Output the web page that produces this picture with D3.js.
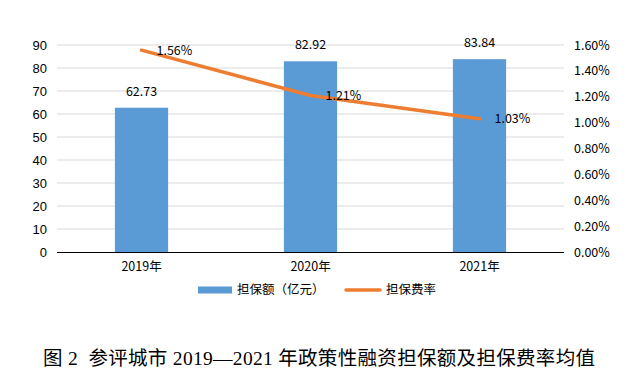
<!DOCTYPE html>
<html>
<head>
<meta charset="utf-8">
<script src="https://cdn.jsdelivr.net/npm/d3@7"></script>
<style>
  body { margin: 0; background: #fff; }
  svg { display: block; }
</style>
</head>
<body>
<div id="chart"></div>
<script>
// chart values
let years = ["2019年", "2020年", "2021年"]
let amounts = [62.73, 82.92, 83.84]      // 担保额（亿元）
let rates = [1.56, 1.21, 1.03]           // 担保费率 (%)
let leftTicks = [0, 10, 20, 30, 40, 50, 60, 70, 80, 90]
let rightTicks = [0, 0.2, 0.4, 0.6, 0.8, 1.0, 1.2, 1.4, 1.6]
let legendNames = ["担保额（亿元）", "担保费率"]
let title = "图 2  参评城市 2019—2021 年政策性融资担保额及担保费率均值"

var svg = d3.select("#chart").append("svg")
  .attr("width", 641)
  .attr("height", 389)

var plot = { left: 57, right: 564, top: 45, bottom: 252 }
var cjk = "'Noto Sans CJK SC', sans-serif"

var x = d3.scaleBand()
  .domain(years)
  .range([plot.left, plot.right])
  .paddingInner(0.685)
  .paddingOuter(0.3425)

var yL = d3.scaleLinear().domain([0, 90]).range([plot.bottom, plot.top])
var yR = d3.scaleLinear().domain([0, 1.6]).range([plot.bottom, plot.top])

// gridlines
svg.append("g")
  .selectAll("line")
  .data(leftTicks.slice(1))
  .join("line")
  .attr("x1", plot.left).attr("x2", plot.right)
  .attr("y1", d => yL(d)).attr("y2", d => yL(d))
  .attr("stroke", "#d9d9d9")
  .attr("stroke-width", 1)

// left axis labels
svg.append("g")
  .attr("transform", "translate(" + plot.left + ",0)")
  .call(d3.axisLeft(yL).tickValues(leftTicks).tickSize(0).tickPadding(10))
  .call(g => g.select(".domain").remove())
  .selectAll("text")
  .style("font-family", "'Liberation Sans', Arial, sans-serif")
  .style("font-size", "13px")
  .attr("fill", "#000")

// right axis labels
svg.append("g")
  .attr("transform", "translate(" + plot.right + ",0)")
  .call(d3.axisRight(yR).tickValues(rightTicks).tickSize(0).tickPadding(10)
    .tickFormat(d => d3.format(".2f")(d) + "%"))
  .call(g => g.select(".domain").remove())
  .selectAll("text")
  .style("font-family", cjk)
  .style("font-size", "12.5px")
  .attr("fill", "#000")

// bars
svg.append("g")
  .selectAll("rect")
  .data(amounts)
  .join("rect")
  .attr("x", (d, i) => x(years[i]))
  .attr("width", x.bandwidth())
  .attr("y", d => yL(d))
  .attr("height", d => plot.bottom - yL(d))
  .attr("fill", "#5b9bd5")

// bottom axis
svg.append("g")
  .attr("transform", "translate(0," + plot.bottom + ")")
  .call(d3.axisBottom(x).tickSize(0).tickPadding(10))
  .call(g => g.select(".domain").attr("d", "M" + plot.left + ",0.5H" + plot.right).attr("stroke", "#000"))
  .selectAll("text")
  .style("font-family", cjk)
  .style("font-size", "12.5px")
  .attr("fill", "#000")

// bar value labels
svg.append("g")
  .selectAll("text")
  .data(amounts)
  .join("text")
  .attr("x", (d, i) => x(years[i]) + x.bandwidth() / 2)
  .attr("y", d => yL(d) - 12)
  .attr("text-anchor", "middle")
  .style("font-family", cjk)
  .style("font-size", "12.5px")
  .text(d => d3.format(".2f")(d))

// rate line
var line = d3.line()
  .x((d, i) => x(years[i]) + x.bandwidth() / 2)
  .y(d => yR(d))

svg.append("path")
  .datum(rates)
  .attr("d", line)
  .attr("fill", "none")
  .attr("stroke", "#ed7d31")
  .attr("stroke-width", 3.5)
  .attr("stroke-linecap", "round")

svg.append("g")
  .selectAll("text")
  .data(rates)
  .join("text")
  .attr("x", (d, i) => x(years[i]) + x.bandwidth() / 2 + 15)
  .attr("y", d => yR(d))
  .attr("dy", "0.35em")
  .style("font-family", cjk)
  .style("font-size", "12.5px")
  .text(d => d3.format(".2f")(d) + "%")

// legend
var legend = svg.append("g").attr("transform", "translate(0,290)")
legend.append("rect")
  .attr("x", 198).attr("y", -3.5)
  .attr("width", 34).attr("height", 7)
  .attr("fill", "#5b9bd5")
legend.append("text")
  .attr("x", 237).attr("y", 0).attr("dy", "0.35em")
  .style("font-family", cjk).style("font-size", "12.5px")
  .text(legendNames[0])
legend.append("line")
  .attr("x1", 346).attr("x2", 380)
  .attr("y1", 0).attr("y2", 0)
  .attr("stroke", "#ed7d31").attr("stroke-width", 3.5)
  .attr("stroke-linecap", "round")
legend.append("text")
  .attr("x", 386).attr("y", 0).attr("dy", "0.35em")
  .style("font-family", cjk).style("font-size", "12.5px")
  .text(legendNames[1])

// caption
svg.append("text")
  .attr("x", 43)
  .attr("y", 358)
  .attr("dy", "0.35em")
  .attr("textLength", 552)
  .attr("lengthAdjust", "spacing")
  .style("font-family", "'Liberation Serif', 'Noto Sans CJK SC', serif")
  .style("font-size", "19.5px")
  .style("white-space", "pre")
  .attr("xml:space", "preserve")
  .text(title)
</script>
</body>
</html>
